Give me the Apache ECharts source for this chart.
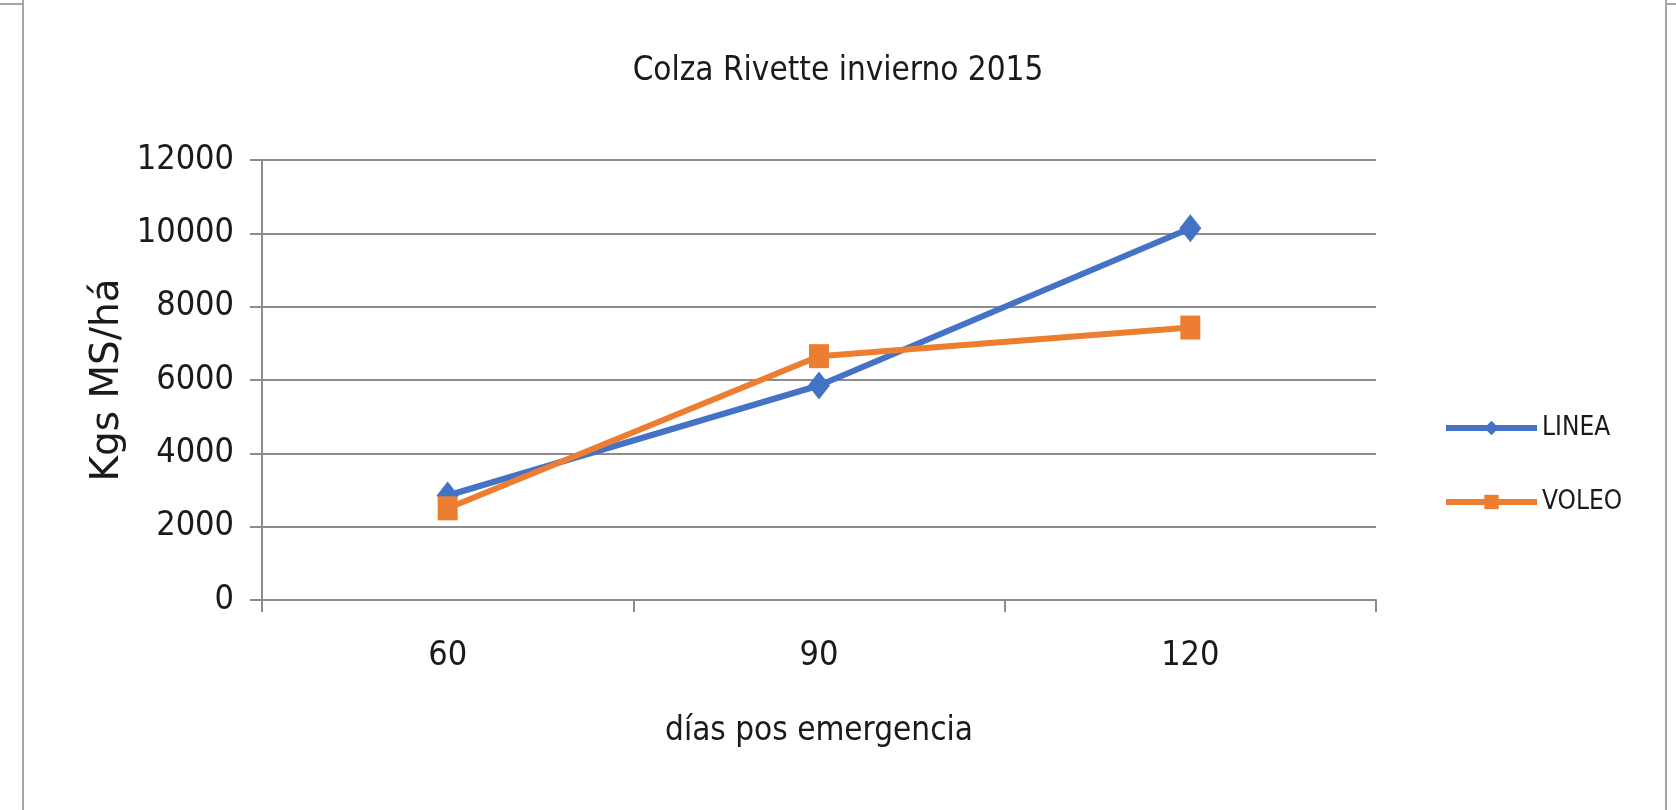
<!DOCTYPE html>
<html>
<head>
<meta charset="utf-8">
<title>Colza Rivette invierno 2015</title>
<script src="https://cdn.jsdelivr.net/npm/echarts@6/dist/echarts.min.js"></script>
<style>
  html, body { margin: 0; padding: 0; background: #fff; }
  #chart { width: 1676px; height: 810px; }
</style>
</head>
<body>
<div id="chart"></div>
<script>
// datos
const dias = ['60', '90', '120'];
const linea = [2850, 5850, 10140];
const voleo = [2500, 6650, 7430];
const yTicks = { min: 0, max: 12000, interval: 2000 };

const FONT = "'Liberation Sans Narrow', 'DejaVu Sans Condensed', 'Liberation Sans', sans-serif";
const GRIS = '#8c8c8c';
const TEXTO = '#1a1a1a';

let myChart = echarts.init(document.getElementById('chart'));
myChart.setOption({
  animation: false,
  title: {
    text: 'Colza Rivette invierno 2015',
    left: 'center',
    top: 50,
    textStyle: { fontFamily: FONT, fontSize: 33, fontWeight: 'normal', color: TEXTO }
  },
  legend: {
    orient: 'vertical',
    left: 1438,
    top: 410,
    itemWidth: 91,
    itemHeight: 18,
    itemGap: 48,
    lineStyle: { width: 6 },
    textStyle: { fontFamily: FONT, fontSize: 26, color: TEXTO },
    data: ['LINEA', 'VOLEO']
  },
  grid: { left: 262, right: 300, top: 160, bottom: 210 },
  xAxis: {
    type: 'category',
    data: dias,
    boundaryGap: true,
    name: 'días pos emergencia',
    nameLocation: 'middle',
    nameGap: 115,
    nameMoveOverlap: false,
    nameTextStyle: { fontFamily: FONT, fontSize: 33, color: TEXTO },
    axisLine: { lineStyle: { color: GRIS, width: 2 } },
    axisTick: { show: true, length: 12, lineStyle: { color: GRIS, width: 2 } },
    axisLabel: { fontFamily: FONT, fontSize: 34, color: TEXTO, margin: 39 }
  },
  yAxis: {
    type: 'value',
    min: yTicks.min,
    max: yTicks.max,
    interval: yTicks.interval,
    name: 'Kgs MS/há',
    nameLocation: 'middle',
    nameGap: 135,
    nameMoveOverlap: false,
    nameTextStyle: { fontFamily: "'DejaVu Sans', sans-serif", fontSize: 39, color: TEXTO },
    axisLine: { show: true, lineStyle: { color: GRIS, width: 2 } },
    axisTick: { show: true, length: 12, lineStyle: { color: GRIS, width: 2 } },
    axisLabel: {
      fontFamily: FONT, fontSize: 34, color: TEXTO, margin: 28,
      formatter: function (v) { return String(v); }
    },
    splitLine: { lineStyle: { color: GRIS, width: 2 } }
  },
  series: [
    {
      name: 'LINEA',
      type: 'line',
      data: linea,
      color: '#4472C4',
      symbol: 'diamond',
      symbolSize: [22, 28],
      lineStyle: { width: 6, color: '#4472C4' },
      itemStyle: { color: '#4472C4' }
    },
    {
      name: 'VOLEO',
      type: 'line',
      data: voleo,
      color: '#ED7D31',
      symbol: 'rect',
      symbolSize: [20, 24],
      lineStyle: { width: 6, color: '#ED7D31' },
      itemStyle: { color: '#ED7D31' }
    }
  ],
  graphic: [
    // bordes del recuadro
    { type: 'line', shape: { x1: 23, y1: 0, x2: 23, y2: 810 }, style: { stroke: '#a6a6a6', lineWidth: 2 } },
    { type: 'line', shape: { x1: 0, y1: 4, x2: 23, y2: 4 }, style: { stroke: '#a6a6a6', lineWidth: 2 } },
    { type: 'line', shape: { x1: 1666, y1: 0, x2: 1666, y2: 810 }, style: { stroke: '#a6a6a6', lineWidth: 2 } },
    { type: 'line', shape: { x1: 1666, y1: 4, x2: 1676, y2: 4 }, style: { stroke: '#a6a6a6', lineWidth: 2 } }
  ]
});
</script>
</body>
</html>
